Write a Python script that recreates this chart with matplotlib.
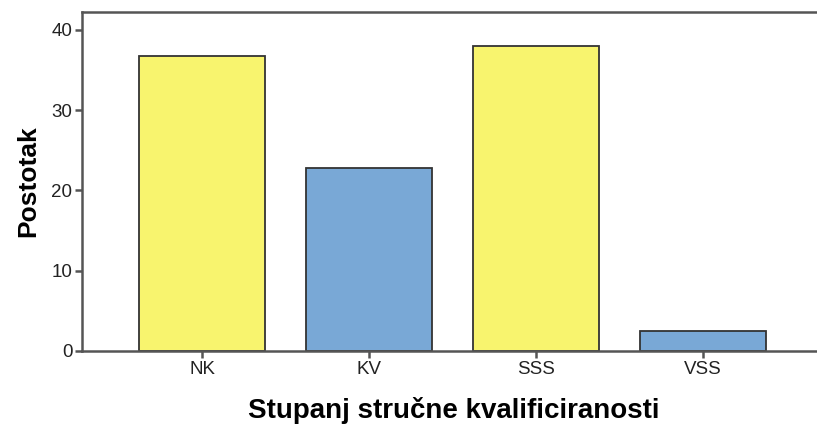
import matplotlib
matplotlib.use("Agg")
import matplotlib.pyplot as plt
import numpy as np

# Data
categories = ["NK", "KV", "SSS", "VSS"]
percent = [36.7, 22.8, 38.0, 2.5]
bar_colors = ["#F8F46E", "#79A8D6", "#F8F46E", "#79A8D6"]
y_ticks = [0, 10, 20, 30, 40]

plt.rcParams["font.family"] = ["Liberation Sans", "DejaVu Sans"]

fig = plt.figure(figsize=(8.17, 4.37), dpi=100)
ax = fig.add_axes([0.1004, 0.1968, 0.8996 + 0.01, 0.7757])

x = np.arange(len(categories))
ax.bar(x, percent, width=0.755, color=bar_colors, edgecolor="#333333", linewidth=1.3, zorder=2)

ax.set_xlim(-0.72, 3.735)
ax.set_ylim(0, 42.24)
ax.set_xticks(x)
ax.set_xticklabels(categories, fontsize=13.5, color="#222222")
ax.set_yticks(y_ticks)
ax.set_yticklabels([str(v) for v in y_ticks], fontsize=13.5, color="#222222")

spine_color = "#555555"
for side in ["left", "top", "bottom"]:
    ax.spines[side].set_color(spine_color)
    ax.spines[side].set_linewidth(1.8)
ax.spines["right"].set_visible(False)
ax.tick_params(axis="both", direction="out", length=5, width=1.8, color=spine_color, pad=2)

ax.set_ylabel("Postotak", fontsize=19, fontweight="bold", labelpad=8)
ax.set_xlabel("Stupanj stručne kvalificiranosti", fontsize=20, fontweight="bold", labelpad=14)

fig.savefig("out.png", dpi=100)
